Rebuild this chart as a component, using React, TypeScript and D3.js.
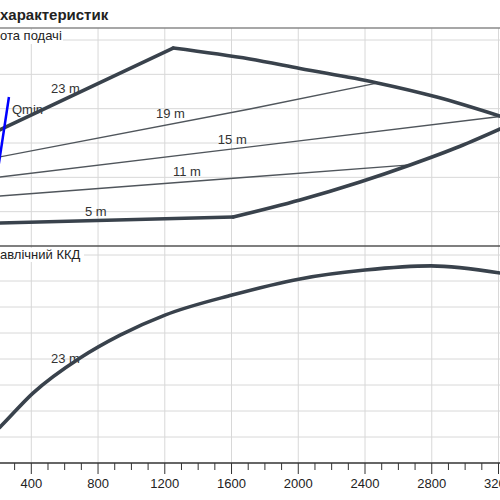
import React from 'react';
import * as d3 from 'd3';

// flow (m3/h) on x, head in the top panel, efficiency (%) in the bottom panel
const xTicks = [400, 800, 1200, 1600, 2000, 2400, 2800, 3200];
const xMinorTicks = d3.range(100, 3400, 100);
const headGrid = [2, 4, 6, 8, 10, 12];
const effGrid = [10, 20, 30, 40, 50, 60, 70, 80];

// 23 m envelope (upper), split at the sharp corner
const riseQ = [180, 1250];
const riseH = [6.62, 11.53];
const fallQ = [1250, 1710, 2010, 2460, 2830, 3215];
const fallH = [11.53, 10.89, 10.34, 9.53, 8.68, 7.55];

// 5 m envelope (lower)
const flatQ = [180, 1610];
const flatH = [1.33, 1.69];
const liftQ = [1610, 2010, 2370, 2670, 2970, 3215];
const liftH = [1.69, 2.68, 3.73, 4.72, 5.81, 6.84];

const q19 = [180, 1710, 2478];
const h19 = [5.13, 7.98, 9.5];
const q15 = [180, 1710, 3215];
const h15 = [3.98, 5.77, 7.55];
const q11 = [180, 1710, 2670];
const h11 = [2.89, 4.02, 4.72];

const qminQ = [266, 190];
const qminH = [8.68, 3.8];

const effQ = [182, 212, 410, 692, 932, 1201, 1603, 2010, 2400, 2795, 3215];
const effE = [11.9, 13.8, 26.9, 40.4, 49.2, 56.9, 64.6, 70.8, 74.2, 75.8, 73.0];

const zip = (a: number[], b: number[]) => a.map((v, i) => [v, b[i]] as [number, number]);

const font = '"Liberation Sans", Arial, sans-serif';
const dark = '#39424c';
const thin = '#50565c';

const App = () => {
    const x = d3.scaleLinear().domain([400, 3200]).range([31.3, 498.5]);
    const yHead = d3.scaleLinear().domain([0, 12]).range([246, 40]);
    const yEff = d3.scaleLinear().domain([0, 80]).range([463, 255]);

    const headLine = d3.line<[number, number]>().x(d => x(d[0])).y(d => yHead(d[1]));
    const headCurve = d3.line<[number, number]>().x(d => x(d[0])).y(d => yHead(d[1])).curve(d3.curveMonotoneX);
    const effLine = d3.line<[number, number]>().x(d => x(d[0])).y(d => yEff(d[1])).curve(d3.curveMonotoneX);

    return (
        <div style={{ position: 'absolute', left: 0, top: 0 }}>
            <svg width={500} height={500} style={{ display: 'block', background: '#fff' }} fontFamily={font}>
                {/* grid */}
                {headGrid.map(v => (
                    <line key={'h' + v} x1={0} x2={500} y1={yHead(v)} y2={yHead(v)} stroke="#d8d8d8" strokeWidth={1} />
                ))}
                {effGrid.map(v => (
                    <line key={'e' + v} x1={0} x2={500} y1={yEff(v)} y2={yEff(v)} stroke="#d8d8d8" strokeWidth={1} />
                ))}
                {xTicks.map(v => (
                    <line key={'v' + v} x1={x(v)} x2={x(v)} y1={28} y2={463} stroke="#d8d8d8" strokeWidth={1} />
                ))}

                {/* frame lines */}
                <line x1={0} x2={500} y1={28} y2={28} stroke="#8a8a8a" strokeWidth={1.5} />
                <line x1={0} x2={500} y1={246} y2={246} stroke="#555" strokeWidth={1.3} />
                <line x1={0} x2={500} y1={463} y2={463} stroke="#333" strokeWidth={1.3} />

                {/* x axis */}
                {xMinorTicks.map(v => (
                    <line key={'m' + v} x1={x(v)} x2={x(v)} y1={463} y2={v % 400 === 0 ? 474 : 470} stroke="#333" strokeWidth={1} />
                ))}
                {xTicks.map(v => (
                    <text key={'t' + v} x={x(v)} y={488} fontSize={13} textAnchor="middle" fill="#222">{v}</text>
                ))}

                {/* titles */}
                <text x={0} y={20} fontSize={15} fontWeight="bold" fill="#222">характеристик</text>
                <rect x={0} y={30} width={63} height={14} fill="#fff" />
                <text x={0} y={40} fontSize={13} fill="#222">ота подачі</text>
                <rect x={0} y={248} width={84} height={14} fill="#fff" />
                <text x={0} y={259} fontSize={13} fill="#222">авлічний ККД</text>

                {/* curve labels */}
                <text x={x(518)} y={yHead(8.91)} fontSize={13} fill="#333">23 m</text>
                <text x={x(1147)} y={yHead(7.46)} fontSize={13} fill="#333">19 m</text>
                <text x={x(1518)} y={yHead(5.94)} fontSize={13} fill="#333">15 m</text>
                <text x={x(1249)} y={yHead(4.08)} fontSize={13} fill="#333">11 m</text>
                <text x={x(722)} y={yHead(1.75)} fontSize={13} fill="#333">5 m</text>
                <text x={x(284)} y={yHead(7.69)} fontSize={13} fill="#333">Qmin</text>
                <text x={x(518)} y={yEff(38.5)} fontSize={13} fill="#333">23 m</text>

                {/* thin lines */}
                <path d={headLine(zip(q19, h19)) || ''} fill="none" stroke={thin} strokeWidth={1.3} />
                <path d={headLine(zip(q15, h15)) || ''} fill="none" stroke={thin} strokeWidth={1.3} />
                <path d={headLine(zip(q11, h11)) || ''} fill="none" stroke={thin} strokeWidth={1.3} />

                {/* envelope */}
                <path d={headLine(zip(riseQ, riseH)) || ''} fill="none" stroke={dark} strokeWidth={3.6} strokeLinejoin="round" strokeLinecap="round" />
                <path d={headCurve(zip(fallQ, fallH)) || ''} fill="none" stroke={dark} strokeWidth={3.6} strokeLinecap="round" />
                <path d={headLine(zip(flatQ, flatH)) || ''} fill="none" stroke={dark} strokeWidth={3.6} strokeLinecap="round" />
                <path d={headCurve(zip(liftQ, liftH)) || ''} fill="none" stroke={dark} strokeWidth={3.6} strokeLinecap="round" />

                {/* Qmin */}
                <path d={headLine(zip(qminQ, qminH)) || ''} fill="none" stroke="#0000ff" strokeWidth={2.5} />

                {/* efficiency */}
                <path d={effLine(zip(effQ, effE)) || ''} fill="none" stroke={dark} strokeWidth={3.6} />
            </svg>
        </div>
    );
};

export default App;
